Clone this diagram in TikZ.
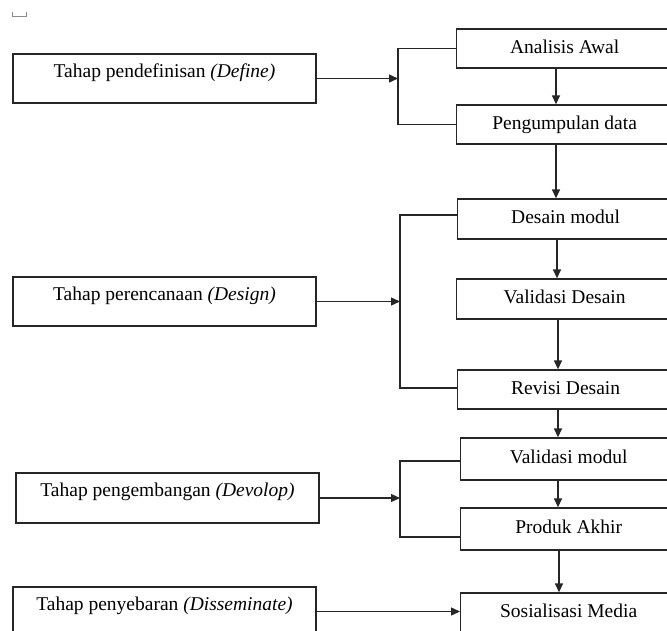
\documentclass[tikz,border=0pt]{standalone}
\usepackage{fontspec}
\setmainfont{Liberation Serif}
\usetikzlibrary{arrows.meta,calc}
\begin{document}
\begin{tikzpicture}[x=1pt,y=-1pt,
  every node/.style={font=\fontsize{19.5}{23}\selectfont},
  conn/.style={line width=1.3pt,draw=black!85},
  arr/.style={conn, -{Triangle[length=9pt,width=8pt]}},
  lbox/.style={draw=black!85,line width=1.3pt,inner sep=0pt,minimum width=303pt,text height=23pt,text depth=26pt},
  rbox/.style={draw=black!85,line width=1.3pt,inner sep=0pt,minimum width=216pt,text height=13.5pt,text depth=4pt,anchor=west}]
\useasboundingbox (0,0) rectangle (667,630);
\clip (0,0) rectangle (667,630);
% small mark top-left
\draw[black!45,line width=0.8pt] (12,12) -- (12,16) -- (26,16) -- (26,12);
% left boxes
\node[lbox] (def) at (164.5,78.5) {Tahap pendefinisan \textit{(Define)}};
\node[lbox] (des) at (164.5,301.5) {Tahap perencanaan \textit{(Design)}};
\node[lbox,text depth=27pt] (dev) at (167.5,498) {Tahap pengembangan \textit{(Devolop)}};
\node[lbox] (dis) at (164.5,611.5) {Tahap penyebaran \textit{(Disseminate)}};
% right boxes
\node[rbox,minimum height=39pt] (an) at (456,48.5) {Analisis Awal};
\node[rbox,minimum height=39pt] (pd) at (456,124.5) {Pengumpulan data};
\node[rbox,minimum height=40pt] (dm) at (457,219) {Desain modul};
\node[rbox,minimum height=40pt] (vd) at (456,299) {Validasi Desain};
\node[rbox,minimum height=39pt] (rd) at (457,389.5) {Revisi Desain};
\node[rbox,minimum height=42pt] (vm) at (460,459) {Validasi modul};
\node[rbox,minimum height=42pt] (pa) at (460,529) {Produk Akhir};
\node[rbox,minimum height=40pt] (sm) at (460,613) {Sosialisasi Media};
% bracket coordinates
\coordinate (b1) at (398,0);
\coordinate (b2) at (400,0);
\coordinate (b3) at (400,0);
\coordinate (x1) at (556,0);
\coordinate (x2) at (557,0);
\coordinate (x3) at (558,0);
\coordinate (x4) at (559,0);
% brackets
\draw[conn] (an.west) -- (an.west -| b1) -- (pd.west -| b1) -- (pd.west);
\draw[conn] ($(dm.west)+(0,-4)$) -- ($(dm.west -| b2)+(0,-4)$) -- ($(rd.west -| b2)+(0,-1.5)$) -- ($(rd.west)+(0,-1.5)$);
\draw[conn] ($(vm.west)+(0,2)$) -- ($(vm.west -| b3)+(0,2)$) -- ($(pa.west -| b3)+(0,8)$) -- ($(pa.west)+(0,8)$);
% left arrows
\draw[arr] (def.east) -- (def.east -| b1);
\draw[arr] (des.east) -- (des.east -| b2);
\draw[arr] (dev.east) -- (dev.east -| b3);
\draw[arr] (dis.east) -- (sm.west |- dis.east);
% vertical arrows
\draw[arr] (an.south -| x1) -- (pd.north -| x1);
\draw[arr] (pd.south -| x1) -- (dm.north -| x1);
\draw[arr] (dm.south -| x2) -- (vd.north -| x2);
\draw[arr] (vd.south -| x3) -- (rd.north -| x3);
\draw[arr] (rd.south -| x3) -- (vm.north -| x3);
\draw[arr] (vm.south -| x3) -- (pa.north -| x3);
\draw[arr] (pa.south -| x4) -- (sm.north -| x4);
\end{tikzpicture}
\end{document}
